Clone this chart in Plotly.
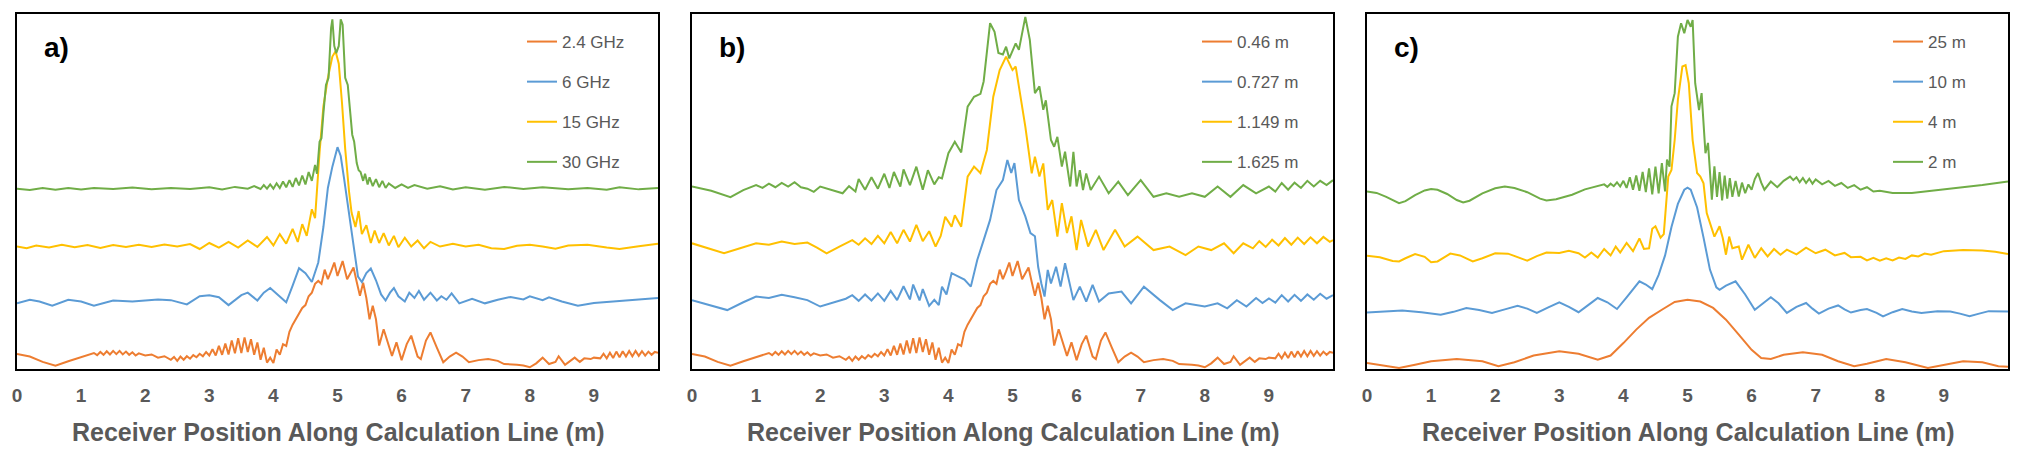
import plotly.graph_objects as go

# ---------------- data (x in m, y in relative level 0-100) -------------
x_ticks = [0, 1, 2, 3, 4, 5, 6, 7, 8, 9]

# Panel a) frequencies
a_names = ["2.4 GHz", "6 GHz", "15 GHz", "30 GHz"]
a_24 = [(0, 4.2), (0.2, 3.5), (0.4, 2.0), (0.6, 0.9), (0.8, 2.2), (1.0, 3.4), (1.1, 3.8), (1.2, 4.5), (1.25, 3.9),
        (1.3, 4.8), (1.35, 4.0), (1.4, 5.0), (1.45, 4.1), (1.5, 5.1), (1.55, 4.2), (1.6, 5.1), (1.65, 4.1), (1.7, 4.9),
        (1.75, 4.0), (1.8, 4.7), (1.85, 3.8), (1.9, 4.4), (2.0, 3.8), (2.1, 4.1), (2.2, 3.2), (2.3, 3.6), (2.4, 2.6),
        (2.45, 3.4), (2.5, 2.3), (2.55, 3.5), (2.6, 2.6), (2.65, 3.6), (2.7, 2.9), (2.75, 3.9), (2.8, 3.3), (2.85, 4.3),
        (2.9, 3.6), (2.95, 4.8), (3.0, 3.8), (3.05, 5.6), (3.1, 3.8), (3.15, 6.5), (3.2, 4.0), (3.25, 7.2), (3.3, 4.1),
        (3.35, 8.0), (3.4, 4.4), (3.45, 8.7), (3.5, 4.5), (3.55, 8.9), (3.6, 4.8), (3.65, 8.4), (3.7, 4.0), (3.75, 7.5),
        (3.8, 2.6), (3.85, 6.0), (3.9, 1.8), (3.95, 3.2), (4.0, 1.7), (4.05, 5.5), (4.1, 4.0), (4.15, 7.0), (4.2, 6.5),
        (4.25, 10.5), (4.3, 12.5), (4.35, 14.0), (4.4, 15.5), (4.45, 17.2), (4.5, 18.0), (4.55, 20.5), (4.6, 21.5),
        (4.65, 24.0), (4.7, 24.8), (4.75, 24.0), (4.8, 28.0), (4.85, 25.3), (4.9, 27.5), (4.95, 30.0), (5.0, 26.2),
        (5.05, 28.5), (5.08, 30.4), (5.15, 25.3), (5.2, 27.0), (5.25, 28.6), (5.3, 24.5), (5.35, 20.6), (5.4, 24.3),
        (5.45, 20.0), (5.5, 14.0), (5.55, 17.8), (5.6, 14.0), (5.65, 6.6), (5.72, 11.2), (5.78, 8.0), (5.85, 3.7),
        (5.92, 7.5), (6.0, 2.5), (6.08, 7.0), (6.15, 9.4), (6.25, 3.5), (6.3, 2.8), (6.38, 8.0), (6.45, 10.3),
        (6.55, 6.0), (6.65, 1.9), (6.75, 3.5), (6.85, 4.6), (6.95, 3.5), (7.05, 1.9), (7.2, 2.5), (7.35, 2.8),
        (7.5, 2.3), (7.6, 1.4), (7.8, 1.2), (7.9, 1.0), (8.0, 0.5), (8.1, 1.6), (8.2, 3.2), (8.3, 1.4), (8.4, 2.0),
        (8.45, 3.6), (8.55, 1.2), (8.65, 2.4), (8.7, 3.2), (8.78, 2.0), (8.85, 3.0), (8.95, 2.8), (9.0, 3.2),
        (9.1, 3.0), (9.15, 4.3), (9.2, 3.0), (9.25, 4.6), (9.3, 3.1), (9.35, 4.9), (9.4, 3.3), (9.45, 5.0), (9.5, 3.5),
        (9.55, 5.1), (9.6, 3.6), (9.65, 5.1), (9.7, 3.7), (9.75, 5.0), (9.8, 3.8), (9.85, 4.9), (9.9, 4.0),
        (9.95, 4.8), (10.0, 4.6)]
a_6 = [(0, 18.5), (0.2, 19.5), (0.35, 19.0), (0.55, 17.8), (0.8, 19.5), (1.0, 19.0), (1.2, 17.8), (1.5, 19.3),
       (1.8, 19.0), (2.0, 19.3), (2.2, 19.6), (2.4, 19.4), (2.65, 18.2), (2.85, 20.5), (3.0, 20.8), (3.15, 20.2),
       (3.3, 18.0), (3.5, 20.8), (3.6, 21.5), (3.75, 19.3), (3.85, 21.5), (3.95, 22.8), (4.1, 20.5), (4.2, 18.8),
       (4.3, 23.5), (4.4, 28.4), (4.5, 27.0), (4.6, 24.5), (4.7, 30.0), (4.78, 40.0), (4.85, 51.0), (4.92, 57.0),
       (5.0, 62.5), (5.05, 60.0), (5.1, 54.0), (5.18, 44.0), (5.25, 35.0), (5.32, 26.0), (5.38, 24.5), (5.45, 27.0),
       (5.52, 28.3), (5.6, 25.0), (5.68, 21.0), (5.75, 19.3), (5.82, 21.5), (5.88, 22.8), (5.95, 20.5), (6.05, 19.0),
       (6.12, 21.5), (6.2, 20.0), (6.27, 22.0), (6.35, 19.5), (6.45, 21.5), (6.55, 19.3), (6.62, 20.5), (6.7, 19.5),
       (6.78, 21.3), (6.9, 18.5), (7.1, 19.8), (7.3, 18.5), (7.5, 19.5), (7.7, 20.3), (7.9, 19.6), (8.0, 20.5),
       (8.2, 19.4), (8.3, 20.2), (8.5, 19.0), (8.75, 17.8), (9.0, 18.6), (9.3, 19.0), (9.6, 19.5), (10.0, 20.0)]
a_15 = [(0, 34.5), (0.15, 34.0), (0.3, 34.8), (0.5, 34.2), (0.7, 35.0), (0.9, 34.3), (1.1, 34.9), (1.3, 34.1),
        (1.5, 34.9), (1.7, 34.4), (1.9, 35.0), (2.1, 34.4), (2.3, 35.1), (2.5, 34.5), (2.7, 35.2), (2.85, 33.8),
        (3.0, 35.5), (3.15, 34.2), (3.3, 35.8), (3.45, 34.2), (3.6, 36.2), (3.75, 34.4), (3.9, 37.2), (4.0, 34.8),
        (4.1, 38.0), (4.2, 35.3), (4.3, 39.5), (4.38, 35.8), (4.45, 40.8), (4.52, 37.5), (4.6, 45.0), (4.65, 42.5),
        (4.72, 61.0), (4.78, 74.0), (4.85, 82.0), (4.92, 88.0), (4.97, 89.5), (5.02, 86.0), (5.07, 75.0),
        (5.12, 62.0), (5.18, 50.0), (5.22, 44.0), (5.28, 40.0), (5.33, 44.5), (5.38, 38.0), (5.45, 40.5),
        (5.52, 35.5), (5.58, 39.0), (5.65, 35.5), (5.72, 38.3), (5.8, 34.8), (5.88, 37.5), (5.95, 34.3), (6.05, 37.0),
        (6.15, 34.5), (6.25, 36.2), (6.35, 34.0), (6.45, 35.8), (6.6, 34.5), (6.8, 35.3), (7.0, 34.5), (7.2, 35.0),
        (7.4, 34.0), (7.6, 33.8), (7.8, 34.7), (8.0, 35.0), (8.2, 34.5), (8.4, 33.9), (8.6, 34.8), (8.9, 35.0),
        (9.2, 34.2), (9.4, 33.8), (9.7, 34.6), (10.0, 35.3)]
a_30 = [(0, 50.8), (0.2, 50.4), (0.4, 51.0), (0.6, 50.5), (0.8, 51.0), (1.0, 50.6), (1.2, 51.0), (1.5, 50.7),
        (1.8, 51.1), (2.1, 50.6), (2.4, 51.0), (2.7, 50.7), (3.0, 51.2), (3.2, 50.6), (3.4, 51.3), (3.6, 50.8),
        (3.7, 51.5), (3.8, 50.7), (3.85, 51.8), (3.9, 50.8), (3.95, 52.0), (4.0, 50.8), (4.05, 52.3), (4.1, 51.0),
        (4.15, 52.8), (4.2, 51.2), (4.25, 53.2), (4.3, 51.3), (4.35, 53.8), (4.4, 51.7), (4.45, 54.5), (4.5, 52.0),
        (4.55, 55.5), (4.6, 53.0), (4.65, 57.5), (4.68, 55.0), (4.72, 64.0), (4.75, 65.0), (4.78, 72.0), (4.82, 80.0),
        (4.86, 82.0), (4.9, 96.0), (4.92, 98.5), (4.95, 91.0), (4.98, 89.0), (5.02, 91.0), (5.05, 98.5),
        (5.08, 97.0), (5.12, 82.0), (5.16, 80.0), (5.2, 72.0), (5.23, 66.0), (5.26, 64.0), (5.3, 58.0), (5.33, 56.0),
        (5.36, 55.5), (5.4, 53.0), (5.43, 55.0), (5.47, 52.0), (5.5, 54.0), (5.55, 51.5), (5.6, 53.5), (5.65, 51.2),
        (5.7, 53.0), (5.75, 51.0), (5.8, 52.3), (5.9, 51.0), (6.0, 52.0), (6.1, 51.0), (6.2, 51.8), (6.4, 50.8),
        (6.6, 51.5), (6.8, 50.6), (7.0, 51.2), (7.3, 50.5), (7.6, 51.3), (7.9, 50.7), (8.2, 51.2), (8.6, 50.6),
        (8.9, 51.0), (9.2, 50.5), (9.4, 51.2), (9.7, 50.6), (10.0, 51.0)]

# Panel b) distances
b_names = ["0.46 m", "0.727 m", "1.149 m", "1.625 m"]
b_046 = list(a_24)
b_0727 = [(0, 19.4), (0.25, 18.2), (0.55, 16.6), (0.8, 18.8), (1.0, 20.4), (1.2, 20.0), (1.4, 20.9), (1.6, 20.2),
          (1.8, 19.4), (2.0, 17.6), (2.2, 18.6), (2.4, 19.8), (2.5, 20.8), (2.6, 19.2), (2.7, 21.0), (2.8, 19.3),
          (2.9, 21.3), (3.0, 19.2), (3.1, 22.0), (3.2, 19.4), (3.3, 23.3), (3.4, 19.6), (3.45, 23.8), (3.55, 19.3),
          (3.6, 22.5), (3.7, 17.8), (3.78, 19.5), (3.85, 18.0), (3.9, 23.2), (3.97, 21.0), (4.05, 27.0),
          (4.15, 26.0), (4.25, 25.2), (4.35, 23.2), (4.45, 30.7), (4.55, 36.3), (4.65, 42.0), (4.75, 50.4),
          (4.85, 53.2), (4.92, 58.9), (4.98, 55.2), (5.03, 58.0), (5.1, 47.6), (5.2, 43.0), (5.28, 38.3),
          (5.35, 37.4), (5.4, 28.8), (5.45, 24.1), (5.5, 20.4), (5.55, 27.9), (5.6, 24.1), (5.68, 28.8),
          (5.75, 23.2), (5.82, 29.8), (5.9, 23.2), (5.95, 19.4), (6.05, 23.2), (6.15, 19.0), (6.25, 23.7),
          (6.35, 19.0), (6.5, 21.3), (6.7, 21.8), (6.85, 18.5), (7.05, 23.2), (7.3, 19.4), (7.5, 16.6),
          (7.7, 18.5), (8.0, 17.6), (8.2, 18.5), (8.35, 17.1), (8.5, 19.4), (8.65, 17.6), (8.8, 20.0),
          (8.9, 18.6), (9.0, 19.9), (9.1, 18.7), (9.2, 20.8), (9.3, 19.0), (9.4, 20.9), (9.5, 19.2), (9.6, 21.0),
          (9.7, 19.5), (9.8, 21.2), (9.9, 19.8), (10.0, 20.8)]
b_1149 = [(0, 35.4), (0.25, 34.0), (0.5, 32.6), (0.75, 34.0), (1.0, 35.4), (1.2, 35.0), (1.4, 35.9), (1.6, 35.2),
          (1.8, 35.6), (1.95, 34.2), (2.1, 32.6), (2.3, 34.5), (2.5, 36.3), (2.6, 35.0), (2.7, 36.8), (2.8, 35.2),
          (2.9, 37.5), (3.0, 35.4), (3.1, 38.6), (3.2, 35.4), (3.3, 39.2), (3.4, 35.9), (3.5, 40.6), (3.6, 36.0),
          (3.7, 38.8), (3.8, 34.5), (3.88, 37.5), (3.95, 42.9), (4.05, 40.1), (4.1, 43.3), (4.2, 40.1),
          (4.3, 54.2), (4.4, 57.0), (4.5, 55.2), (4.6, 61.7), (4.7, 76.7), (4.8, 84.2), (4.9, 88.0), (5.0, 84.2),
          (5.05, 85.2), (5.1, 79.5), (5.2, 68.3), (5.3, 55.1), (5.35, 59.8), (5.42, 54.2), (5.48, 57.9),
          (5.55, 44.8), (5.62, 47.6), (5.7, 37.3), (5.77, 46.7), (5.85, 38.3), (5.92, 43.0), (6.0, 33.5),
          (6.07, 42.0), (6.18, 34.5), (6.3, 39.2), (6.42, 33.5), (6.6, 39.2), (6.75, 34.5), (6.95, 37.3),
          (7.2, 33.5), (7.45, 34.5), (7.7, 32.1), (7.9, 34.5), (8.1, 33.5), (8.3, 35.4), (8.45, 32.6),
          (8.6, 35.4), (8.75, 34.0), (8.85, 36.0), (8.95, 34.4), (9.05, 36.4), (9.15, 34.8), (9.25, 36.9),
          (9.35, 35.0), (9.45, 37.0), (9.55, 35.2), (9.65, 37.1), (9.75, 35.4), (9.85, 37.2), (9.95, 35.8),
          (10.0, 36.3)]
b_1625 = [(0, 51.4), (0.3, 50.2), (0.6, 48.4), (0.8, 50.4), (1.0, 51.8), (1.1, 51.0), (1.2, 52.2), (1.3, 51.2),
          (1.4, 52.4), (1.5, 51.4), (1.6, 52.6), (1.7, 51.2), (1.8, 50.8), (1.9, 49.9), (2.0, 51.4), (2.15, 50.5),
          (2.35, 49.5), (2.45, 51.5), (2.55, 50.0), (2.6, 53.5), (2.7, 50.5), (2.8, 54.0), (2.9, 50.8), (3.0, 55.0),
          (3.08, 51.0), (3.15, 55.5), (3.25, 51.4), (3.3, 56.2), (3.4, 51.8), (3.5, 57.0), (3.6, 50.5),
          (3.68, 56.0), (3.78, 52.0), (3.85, 54.0), (3.9, 53.7), (4.0, 60.8), (4.1, 64.0), (4.2, 61.0), (4.3, 73.9),
          (4.4, 76.7), (4.5, 77.5), (4.55, 81.0), (4.6, 89.0), (4.65, 97.4), (4.72, 95.0), (4.78, 89.0),
          (4.85, 88.6), (4.9, 90.8), (4.95, 87.5), (5.05, 91.7), (5.1, 89.9), (5.2, 99.2), (5.27, 92.7),
          (5.35, 77.7), (5.42, 79.6), (5.48, 73.0), (5.52, 75.7), (5.6, 64.5), (5.65, 62.6), (5.7, 65.4),
          (5.77, 57.0), (5.82, 61.2), (5.9, 51.4), (5.95, 61.2), (6.0, 51.4), (6.05, 56.0), (6.1, 50.4),
          (6.15, 55.1), (6.22, 50.4), (6.35, 54.2), (6.5, 49.5), (6.65, 52.8), (6.8, 49.0), (7.0, 53.2),
          (7.2, 48.5), (7.4, 49.5), (7.6, 48.5), (7.8, 49.5), (8.0, 48.5), (8.2, 51.4), (8.4, 48.5), (8.6, 51.8),
          (8.8, 49.5), (9.0, 51.4), (9.1, 50.0), (9.2, 52.4), (9.3, 50.5), (9.4, 52.5), (9.5, 51.0), (9.6, 53.0),
          (9.7, 51.4), (9.8, 53.0), (9.9, 51.8), (10.0, 53.2)]

# Panel c) distances
c_names = ["25 m", "10 m", "4 m", "2 m"]
c_25 = [(0, 1.7), (0.25, 0.9), (0.5, 0.3), (0.75, 1.2), (1.0, 2.2), (1.4, 2.8), (1.8, 2.2), (2.05, 0.8),
        (2.3, 1.9), (2.6, 3.8), (3.0, 5.0), (3.3, 4.3), (3.6, 2.6), (3.8, 3.8), (4.0, 7.3), (4.2, 11.1),
        (4.4, 14.4), (4.6, 16.7), (4.8, 18.9), (5.0, 19.5), (5.2, 19.0), (5.4, 17.2), (5.6, 13.9), (5.8, 9.7),
        (6.0, 5.4), (6.15, 3.1), (6.3, 2.8), (6.5, 4.0), (6.8, 4.7), (7.1, 4.0), (7.35, 2.2), (7.6, 0.8),
        (7.8, 1.5), (8.1, 2.8), (8.4, 1.9), (8.75, 0.3), (9.0, 1.2), (9.3, 2.2), (9.6, 1.9), (9.85, 0.8),
        (10.0, 0.6)]
c_10 = [(0, 15.9), (0.3, 16.2), (0.55, 16.5), (0.85, 16.0), (1.15, 15.3), (1.35, 16.1), (1.55, 17.2), (1.75, 16.6),
        (1.95, 15.8), (2.15, 16.8), (2.35, 17.8), (2.5, 17.0), (2.65, 15.8), (2.82, 17.3), (3.0, 18.8), (3.15, 17.5),
        (3.3, 16.0), (3.45, 18.0), (3.6, 20.0), (3.75, 18.8), (3.9, 16.9), (4.05, 20.2), (4.25, 24.7), (4.35, 23.8),
        (4.45, 22.5), (4.55, 26.5), (4.65, 32.0), (4.75, 40.0), (4.85, 46.5), (4.95, 50.5), (5.0, 51.1),
        (5.05, 50.5), (5.15, 45.5), (5.25, 37.0), (5.35, 28.0), (5.45, 23.0), (5.5, 22.3), (5.6, 23.5),
        (5.75, 24.7), (5.9, 21.0), (6.05, 16.7), (6.18, 18.5), (6.3, 20.2), (6.42, 18.5), (6.55, 15.8),
        (6.7, 17.5), (6.85, 18.6), (6.95, 17.0), (7.05, 15.6), (7.2, 17.0), (7.35, 17.9), (7.45, 16.8),
        (7.55, 15.9), (7.7, 16.6), (7.8, 16.9), (7.95, 15.8), (8.05, 14.8), (8.2, 16.0), (8.35, 16.9), (8.5, 16.2),
        (8.65, 15.8), (8.9, 16.3), (9.1, 16.2), (9.25, 15.6), (9.4, 14.9), (9.55, 15.6), (9.7, 16.3),
        (10.0, 16.2)]
c_4 = [(0, 31.9), (0.2, 31.5), (0.4, 30.4), (0.5, 30.3), (0.6, 31.2), (0.75, 32.4), (0.9, 31.6), (1.0, 30.1),
       (1.1, 30.3), (1.3, 32.5), (1.45, 32.0), (1.65, 30.3), (1.8, 31.2), (2.0, 32.6), (2.2, 32.5), (2.4, 31.3),
       (2.5, 30.5), (2.65, 31.8), (2.8, 32.8), (3.0, 32.7), (3.15, 33.3), (3.3, 32.6), (3.4, 31.4), (3.5, 32.8),
       (3.6, 31.4), (3.7, 33.8), (3.8, 32.0), (3.88, 34.5), (3.95, 32.8), (4.05, 35.5), (4.15, 33.2), (4.25, 36.8),
       (4.32, 33.8), (4.4, 34.0), (4.45, 39.5), (4.5, 40.2), (4.58, 37.0), (4.63, 38.0), (4.7, 54.2), (4.75, 56.1),
       (4.8, 64.5), (4.85, 75.8), (4.92, 85.2), (4.97, 85.6), (5.02, 80.5), (5.08, 64.5), (5.15, 55.2),
       (5.2, 54.2), (5.25, 52.3), (5.3, 43.9), (5.35, 41.1), (5.42, 37.3), (5.5, 40.2), (5.55, 36.9), (5.6, 32.2),
       (5.65, 37.3), (5.7, 34.0), (5.8, 34.5), (5.85, 30.8), (5.95, 35.0), (6.05, 31.3), (6.15, 34.0),
       (6.25, 31.7), (6.35, 33.8), (6.45, 32.2), (6.55, 33.6), (6.7, 32.3), (6.85, 34.2), (7.0, 32.6),
       (7.15, 33.6), (7.3, 32.0), (7.45, 32.7), (7.55, 31.5), (7.7, 31.6), (7.8, 30.6), (7.9, 31.3), (8.0, 30.5),
       (8.1, 31.2), (8.2, 30.6), (8.3, 31.4), (8.4, 31.0), (8.5, 32.0), (8.6, 31.7), (8.7, 32.5), (8.8, 32.2),
       (9.0, 33.2), (9.3, 33.5), (9.6, 33.4), (9.8, 33.0), (10.0, 32.4)]
c_2 = [(0, 50.0), (0.15, 49.6), (0.3, 48.5), (0.45, 47.0), (0.5, 46.7), (0.6, 47.3), (0.75, 49.0), (0.9, 50.3),
       (1.0, 50.7), (1.1, 50.5), (1.25, 49.3), (1.4, 47.6), (1.5, 46.9), (1.6, 47.4), (1.8, 49.5), (2.0, 50.9),
       (2.15, 51.4), (2.3, 51.0), (2.5, 49.8), (2.7, 48.0), (2.8, 47.5), (2.95, 47.8), (3.2, 49.1), (3.4, 50.6),
       (3.6, 51.4), (3.7, 52.0), (3.75, 51.3), (3.8, 52.2), (3.85, 51.5), (3.9, 52.6), (3.95, 51.4), (4.0, 53.0),
       (4.05, 51.0), (4.1, 54.0), (4.15, 50.5), (4.2, 54.5), (4.25, 50.2), (4.3, 55.5), (4.35, 49.8), (4.4, 56.5),
       (4.45, 49.2), (4.5, 57.0), (4.55, 49.5), (4.6, 58.0), (4.65, 50.0), (4.68, 59.0), (4.72, 57.0),
       (4.75, 74.0), (4.8, 77.7), (4.82, 85.2), (4.85, 93.6), (4.9, 97.4), (4.95, 94.6), (5.0, 98.3),
       (5.05, 96.4), (5.08, 98.3), (5.12, 80.5), (5.18, 72.9), (5.22, 77.7), (5.28, 60.8), (5.32, 63.7),
       (5.38, 47.7), (5.42, 57.1), (5.46, 48.5), (5.5, 55.5), (5.54, 47.5), (5.58, 54.5), (5.62, 48.0),
       (5.66, 53.8), (5.7, 48.5), (5.75, 53.0), (5.8, 48.6), (5.85, 52.5), (5.9, 49.5), (5.95, 52.0), (6.0, 50.5),
       (6.05, 53.5), (6.1, 55.2), (6.15, 52.5), (6.2, 50.5), (6.3, 52.8), (6.4, 51.2), (6.5, 53.0), (6.6, 54.2),
       (6.65, 53.2), (6.7, 54.0), (6.75, 52.6), (6.8, 53.8), (6.85, 52.4), (6.9, 53.6), (6.95, 52.2), (7.0, 53.4),
       (7.1, 52.0), (7.2, 53.0), (7.3, 51.6), (7.4, 52.4), (7.5, 51.0), (7.6, 51.8), (7.7, 50.5), (7.8, 51.2),
       (7.9, 50.0), (8.0, 50.2), (8.2, 49.6), (8.5, 49.6), (8.8, 50.2), (9.0, 50.5), (9.3, 51.0), (9.6, 51.8),
       (10.0, 52.8)]

colors = ["#ED7D31", "#5B9BD5", "#FFC000", "#70AD47"]
panel_labels = ["a)", "b)", "c)"]
x_title = "Receiver Position Along Calculation Line (m)"

panels = [(a_names, [a_24, a_6, a_15, a_30]),
          (b_names, [b_046, b_0727, b_1149, b_1625]),
          (c_names, [c_25, c_10, c_4, c_2])]

# ---------------- layout geometry (pixels) ----------------
W, H = 2025, 465
box_left = [17, 692, 1367]
box_w = 641
box_top, box_bottom = 14, 369
legend_left = [522, 1197, 1888]

fig = go.Figure()
GREY = "#595959"
SANS = "Liberation Sans, Arial, sans-serif"
TICKFONT = dict(family=SANS, size=19, color=GREY, weight="bold")

for i, (names, series) in enumerate(panels):
    xa = "x" if i == 0 else f"x{i+1}"
    ya = "y" if i == 0 else f"y{i+1}"
    lg = "legend" if i == 0 else f"legend{i+1}"
    for j, (nm, pts) in enumerate(zip(names, series)):
        fig.add_trace(go.Scatter(
            x=[p[0] for p in pts], y=[p[1] for p in pts], mode="lines", name=nm,
            line=dict(color=colors[j], width=2), xaxis=xa, yaxis=ya, legend=lg,
            legendgroup=f"{i}-{j}", hoverinfo="skip"))

    d0 = box_left[i] / W
    d1 = (box_left[i] + box_w) / W
    yd = [1 - box_bottom / H, 1 - box_top / H]
    xkey = "xaxis" if i == 0 else f"xaxis{i+1}"
    ykey = "yaxis" if i == 0 else f"yaxis{i+1}"
    fig.layout[xkey] = dict(domain=[d0, d1], range=[0, 10], tickvals=x_ticks, showgrid=False, zeroline=False,
                            showline=True, linecolor="black", linewidth=2, mirror=True, ticks="",
                            tickfont=TICKFONT, ticklabelstandoff=8, anchor=ya, automargin=False)
    fig.layout[ykey] = dict(domain=yd, range=[0, 100], showgrid=False, zeroline=False, showticklabels=False,
                            showline=True, linecolor="black", linewidth=2, mirror=True, ticks="",
                            anchor=xa, automargin=False)
    fig.layout[lg] = dict(x=legend_left[i] / W, xanchor="left", y=1 - 24 / H, yanchor="top",
                          bgcolor="rgba(0,0,0,0)", tracegroupgap=15, itemwidth=30,
                          font=dict(family=SANS, size=17, color=GREY))
    fig.add_annotation(x=(box_left[i] + 25) / W, y=1 - 47 / H, xref="paper", yref="paper", text=panel_labels[i],
                       showarrow=False, xanchor="left", yanchor="middle",
                       font=dict(family=SANS, size=28, color="black", weight="bold"))
    fig.add_annotation(x=(box_left[i] + box_w / 2) / W, y=1 - 432 / H, xref="paper", yref="paper", text=x_title,
                       showarrow=False, xanchor="center", yanchor="middle",
                       font=dict(family=SANS, size=25, color=GREY, weight="bold"))

fig.update_layout(width=W, height=H, margin=dict(l=0, r=0, t=0, b=0), plot_bgcolor="white",
                  paper_bgcolor="white", showlegend=True)

fig.write_html("out.html")
